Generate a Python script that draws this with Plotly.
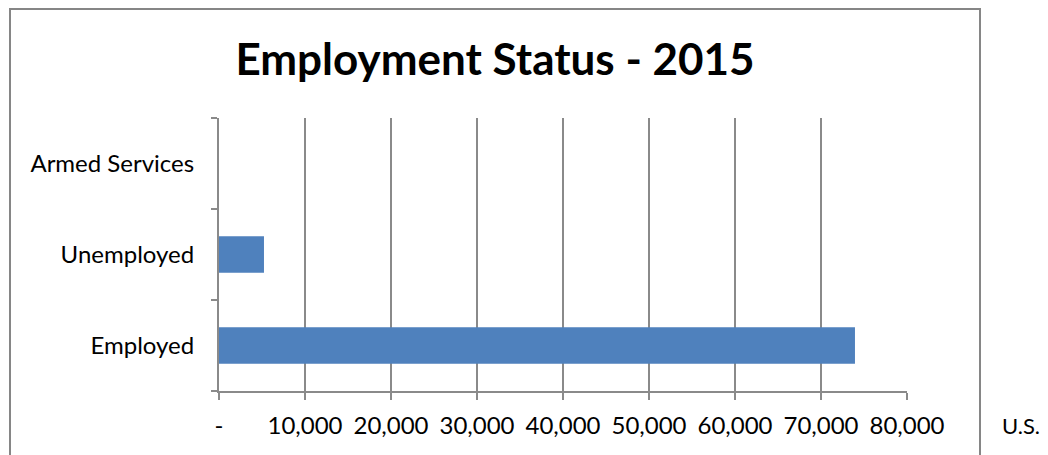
import plotly.graph_objects as go

categories = ["Employed", "Unemployed", "Armed Services"]
values = [73950, 5230, 0]
tick_vals = [0, 10000, 20000, 30000, 40000, 50000, 60000, 70000, 80000]
tick_text = ["-", "10,000", "20,000", "30,000", "40,000", "50,000", "60,000", "70,000", "80,000"]
series_name = "U.S."
title_text = "Employment Status - 2015"

OFF = 8  # page body margin
W, H = 1048 - OFF, 455 - OFF
L, R, T, B = 219 - OFF, 907 - OFF, 118 - OFF, 391 - OFF

def px_x(p):
    return (p - OFF - L) / (R - L)

def px_y(p):
    return (B - (p - OFF)) / (B - T)

FONT = "Lato, Open Sans, sans-serif"
GRID = "#8a8a8a"

fig = go.Figure(go.Bar(
    x=values, y=categories, orientation="h", width=0.4,
    marker=dict(color="#4F81BD", line=dict(width=0)),
    name=series_name, showlegend=False,
))

fig.update_layout(
    width=W, height=H,
    margin=dict(l=L, r=W - R, t=T, b=H - B, pad=0),
    paper_bgcolor="white", plot_bgcolor="white",
    title=dict(text="<b>" + title_text + "</b>", x=px_x(495), xref="paper", xanchor="center",
               y=1 - (60 - OFF) / H, yanchor="middle",
               font=dict(family=FONT, size=44, color="black")),
    xaxis=dict(range=[0, 80000], tickvals=tick_vals, ticktext=tick_text,
               showgrid=True, gridcolor=GRID, gridwidth=2,
               showline=True, linecolor=GRID, linewidth=2,
               ticks="outside", ticklen=7, tickcolor=GRID, tickwidth=2,
               zeroline=False, ticklabelstandoff=5,
               tickfont=dict(family=FONT, size=24, color="black")),
    yaxis=dict(range=[-0.5, 2.5], categoryorder="array", categoryarray=categories,
               showgrid=False, showline=True, linecolor=GRID, linewidth=2,
               ticks="outside", ticklen=6, tickcolor=GRID, tickwidth=2,
               tickson="boundaries", ticklabelstandoff=18,
               tickfont=dict(family=FONT, size=24, color="black")),
    shapes=[dict(type="rect", xref="paper", yref="paper",
                 x0=px_x(10), x1=px_x(980), y0=px_y(470), y1=px_y(9),
                 line=dict(color="#868686", width=2), fillcolor="rgba(0,0,0,0)", layer="below")],
    annotations=[dict(text=series_name, xref="paper", yref="paper",
                      x=px_x(1021), y=px_y(425), xanchor="center", yanchor="middle",
                      showarrow=False, font=dict(family=FONT, size=22, color="black"))],
)

fig.write_html("out.html")
